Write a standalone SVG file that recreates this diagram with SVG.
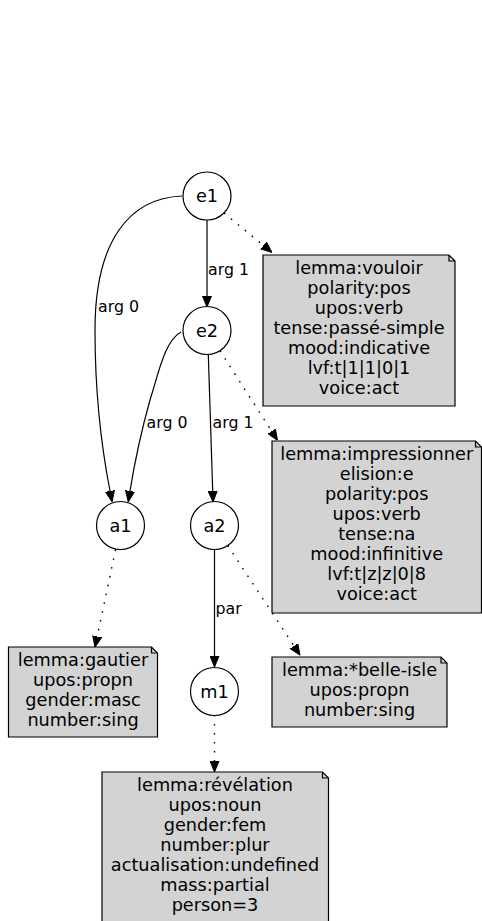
<svg xmlns="http://www.w3.org/2000/svg" width="482" height="921" viewBox="0 0 482 921">
<style>
  .node circle { fill: #ffffff; stroke: #000000; stroke-width: 1.2; }
  .node text { font-family: "DejaVu Sans", "Liberation Sans", sans-serif; font-size: 17.7px; text-anchor: middle; fill: #000000; }
  .note polygon { fill: #d3d3d3; stroke: #000000; stroke-width: 1.2; }
  .note polyline { fill: none; stroke: #000000; stroke-width: 1.2; }
  .note text { font-family: "DejaVu Sans", "Liberation Sans", sans-serif; font-size: 17.7px; text-anchor: middle; fill: #000000; }
  .edge { fill: none; stroke: #000000; stroke-width: 1.2; marker-end: url(#ah); }
  .dot { stroke-dasharray: 1.6 7.4; stroke-width: 1.4; }
  .elabel { font-family: "DejaVu Sans", "Liberation Sans", sans-serif; font-size: 15.8px; fill: #000000; }
</style>
<defs>
  <marker id="ah" viewBox="0 -5 11 10" refX="0" refY="0" markerWidth="11" markerHeight="10" markerUnits="userSpaceOnUse" orient="auto">
    <path d="M0,-4.5 L11,0 L0,4.5 Z" fill="#000000" stroke="#000000" stroke-width="1"/>
  </marker>
</defs>
<rect x="0" y="0" width="482" height="921" fill="#ffffff"/>

<g id="connectors">
  <path class="edge" d="M182,196 C130,198 95,240 95,330 C95,400 102,450 110,491"/>
  <path class="edge" d="M207,220 L207,296"/>
  <path class="edge" d="M181,332 C165,340 158,375 150,400 C143,425 135,460 130,491"/>
  <path class="edge" d="M208.3,354.5 L212.7,491"/>
  <path class="edge" d="M214.5,549.5 L214.5,656"/>
  <path class="edge dot" d="M224,213 L263.5,245.5"/>
  <path class="edge dot" d="M220,350.7 L271.6,431.2"/>
  <path class="edge dot" d="M115.6,549.5 L97.2,636.5"/>
  <path class="edge dot" d="M227.7,545.5 L294,646"/>
  <path class="edge dot" d="M214.5,715 L214.5,761"/>
  <text class="elabel" x="98" y="311.5">arg 0</text>
  <text class="elabel" x="208" y="274.5">arg 1</text>
  <text class="elabel" x="146.5" y="427.5">arg 0</text>
  <text class="elabel" x="212.5" y="427.5">arg 1</text>
  <text class="elabel" x="215.5" y="614">par</text>
</g>

<g id="e1" class="node"><circle cx="207" cy="196" r="24"/><text x="207" y="202">e1</text></g>
<g id="e2" class="node"><circle cx="207" cy="330.5" r="24"/><text x="207" y="336.5">e2</text></g>
<g id="a1" class="node"><circle cx="120.5" cy="525.5" r="24"/><text x="120.5" y="531.5">a1</text></g>
<g id="a2" class="node"><circle cx="214.5" cy="525.5" r="24"/><text x="214.5" y="531.5">a2</text></g>
<g id="m1" class="node"><circle cx="214.5" cy="691.5" r="24"/><text x="214.5" y="697.5">m1</text></g>

<g id="note_e1" class="note">
  <polygon points="455,261 455,406 263,406 263,255 449,255 455,261"/>
  <polyline points="449,255 449,261 455,261"/>
  <text x="359" y="274.3">lemma:vouloir</text>
  <text x="359" y="294.3">polarity:pos</text>
  <text x="359" y="314.3">upos:verb</text>
  <text x="359" y="334.3">tense:passé-simple</text>
  <text x="359" y="354.3">mood:indicative</text>
  <text x="359" y="374.3">lvf:t|1|1|0|1</text>
  <text x="359" y="394.3">voice:act</text>
</g>

<g id="note_e2" class="note">
  <polygon points="481.5,447 481.5,613 272,613 272,441 475.5,441 481.5,447"/>
  <polyline points="475.5,441 475.5,447 481.5,447"/>
  <text x="376.7" y="459.8">lemma:impressionner</text>
  <text x="376.7" y="479.8">elision:e</text>
  <text x="376.7" y="499.8">polarity:pos</text>
  <text x="376.7" y="519.8">upos:verb</text>
  <text x="376.7" y="539.8">tense:na</text>
  <text x="376.7" y="559.8">mood:infinitive</text>
  <text x="376.7" y="579.8">lvf:t|z|z|0|8</text>
  <text x="376.7" y="599.8">voice:act</text>
</g>

<g id="note_a1" class="note">
  <polygon points="157.5,653 157.5,737 8.5,737 8.5,647 151.5,647 157.5,653"/>
  <polyline points="151.5,647 151.5,653 157.5,653"/>
  <text x="83" y="666">lemma:gautier</text>
  <text x="83" y="686">upos:propn</text>
  <text x="83" y="706">gender:masc</text>
  <text x="83" y="726">number:sing</text>
</g>

<g id="note_a2" class="note">
  <polygon points="447,663 447,727 272,727 272,657 441,657 447,663"/>
  <polyline points="441,657 441,663 447,663"/>
  <text x="359.5" y="676">lemma:*belle-isle</text>
  <text x="359.5" y="696">upos:propn</text>
  <text x="359.5" y="716">number:sing</text>
</g>

<g id="note_m1" class="note">
  <polygon points="328.5,778 328.5,935 102,935 102,772 322.5,772 328.5,778"/>
  <polyline points="322.5,772 322.5,778 328.5,778"/>
  <text x="215" y="791">lemma:révélation</text>
  <text x="215" y="811">upos:noun</text>
  <text x="215" y="831">gender:fem</text>
  <text x="215" y="851">number:plur</text>
  <text x="215" y="871">actualisation:undefined</text>
  <text x="215" y="891">mass:partial</text>
  <text x="215" y="911">person=3</text>
</g>
</svg>
